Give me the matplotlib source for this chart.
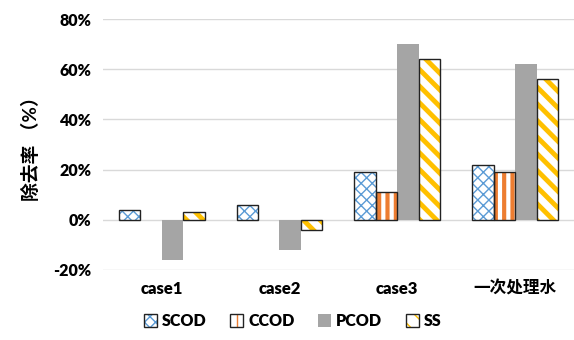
import matplotlib.pyplot as plt
from matplotlib.patches import Patch
import numpy as np

plt.rcParams['font.family'] = ['Lato', 'Noto Sans CJK SC', 'DejaVu Sans']
plt.rcParams['font.weight'] = 'bold'

categories = ['case1', 'case2', 'case3', '一次处理水']
scod = [4, 6, 19, 22]
ccod = [0, 0, 11, 19]
pcod = [-16, -12, 70, 62]
ss = [3, -4, 64, 56]
yticks = [-20, 0, 20, 40, 60, 80]

fig = plt.figure(figsize=(5.74, 3.40), dpi=100)
ax = fig.add_axes([0.179, 0.206, 0.821, 0.738])

x = np.arange(len(categories))
w = 0.182

# (name, values, hatch, colour, hatch line width, outlined)
series = [
    ('SCOD', scod, 'xxx', '#5B9BD5', 1.0, True),
    ('CCOD', ccod, '||', '#ED7D31', 3.0, True),
    ('PCOD', pcod, None, '#A5A5A5', 1.0, False),
    ('SS', ss, '\\\\', '#FFC000', 3.5, True),
]

handles = []
for i, (name, vals, hatch, col, hlw, outlined) in enumerate(series):
    pos = x + (i - 1.5) * w
    vals = np.array(vals, dtype=float)
    with plt.rc_context({'hatch.linewidth': hlw}):
        if hatch is None:
            ax.bar(pos, vals, w, color=col, edgecolor=col, linewidth=0, zorder=2)
            handles.append(Patch(facecolor=col, edgecolor=col, linewidth=0))
        else:
            ax.bar(pos, vals, w, color='white', edgecolor=col, hatch=hatch,
                   linewidth=0, zorder=2)
            handles.append((Patch(facecolor='white', edgecolor=col, hatch=hatch, linewidth=0),
                            Patch(facecolor='none', edgecolor='#222222', linewidth=1.0)))
    if outlined:
        # zero bars get no outline, otherwise a black line sits on the 0% grid
        o = ax.bar(pos, vals, w, color='none', edgecolor='#222222', linewidth=1.0, zorder=3)
        for p, v in zip(o.patches, vals):
            if v == 0:
                p.set_visible(False)

ax.set_xlim(-0.5, 3.5)
ax.set_ylim(-20, 80)
ax.set_yticks(yticks)
ax.set_yticklabels([f'{t}%' for t in yticks], fontsize=11.5, fontweight='heavy')
ax.set_xticks(x)
ax.set_xticklabels(categories, fontsize=12, fontweight='heavy')
ax.tick_params(length=0, pad=8)
ax.yaxis.grid(True, color='#D9D9D9', linewidth=1.0, zorder=0)
ax.set_axisbelow(True)
for s in ax.spines.values():
    s.set_visible(False)

ax.set_ylabel('除去率 （%）', fontsize=13.5, fontweight='bold', labelpad=10)

fig.legend(handles=handles, labels=[s[0] for s in series], loc='lower center',
           bbox_to_anchor=(0.51, -0.01), ncol=4, frameon=False,
           handlelength=0.8, handleheight=0.8, handletextpad=0.3, columnspacing=1.5,
           prop={'weight': 'heavy', 'size': 11.5})

fig.savefig('out.png', dpi=100)
